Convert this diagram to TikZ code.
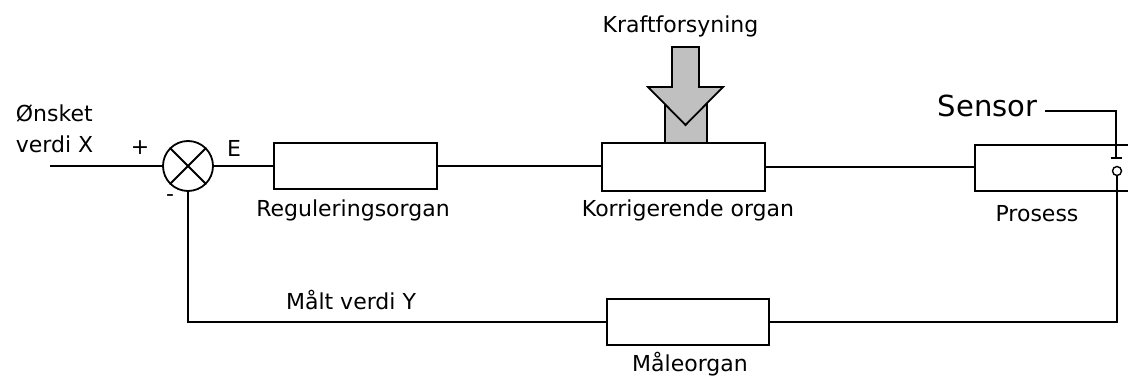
\documentclass[tikz,border=0pt]{standalone}
\usepackage{fontspec}
\setmainfont{DejaVu Sans}
\usetikzlibrary{arrows.meta,calc}
\definecolor{powergray}{RGB}{192,192,192}
\begin{document}
\begin{tikzpicture}[x=1pt,y=-1pt,
  line width=1.8pt,
  font=\fontsize{22}{26}\selectfont,
  blockbox/.style={draw,fill=white,rectangle,inner sep=0pt},
  lbl/.style={inner sep=0pt,anchor=base}]
\useasboundingbox (0,0) rectangle (1128,379);
\fill[white] (0,0) rectangle (1128,379);

% summing junction
\node[draw,circle,minimum size=50pt,inner sep=0pt] (sum) at (188,166) {};
\draw (sum.north west) -- (sum.south east);
\draw (sum.north east) -- (sum.south west);

% blocks
\node[blockbox,minimum width=163pt,minimum height=46pt] (reg) at (355.5,166) {};
\node[blockbox,minimum width=163pt,minimum height=48pt] (korr) at (683.5,167) {};
\node[blockbox,minimum width=175pt,minimum height=46pt] (pros) at (1062.5,168) {};
\node[blockbox,minimum width=162pt,minimum height=46pt] (maal) at (688,322) {};

% power supply arrow
\fill[powergray,draw=black] (665,103) rectangle (707,143);
\filldraw[fill=powergray,draw=black,line join=miter]
  (672,47) -- (699,47) -- (699,87) -- (723,87) -- (685.5,125) -- (648,87) -- (672,87) -- cycle;

% sensor
\node[lbl,anchor=base west,font=\fontsize{29}{32}\selectfont] (sensor) at (937,117) {Sensor};
\coordinate (sstart) at (1045,111);
\coordinate (stip) at (1116,159);
\node[draw,circle,fill=white,minimum size=9pt,inner sep=0pt,line width=1.4pt] (probe) at (1117,171) {};
\draw[-{Bar[width=11pt,line width=1.8pt]}] (sstart) -| (stip);

% connectors
\coordinate (xin) at (50,166);
\draw (xin) -- (sum.west);
\draw (sum.east) -- (reg.west);
\draw (reg.east) -- (reg.east -| korr.west);
\draw (korr.east) -- (korr.east -| pros.west);
\draw (probe.south) |- (maal.east);
\draw (maal.west) -| (sum.south);

% labels
\node[lbl] (kraft) at (680.5,33) {Kraftforsyning};
\node[lbl,anchor=base west] (onsk1) at (15,122) {Ønsket};
\node[lbl,anchor=base west] (onsk2) at (15,153) {verdi X};
\node[inner sep=0pt] (plus) at (140,148) {+};
\node[lbl] (elbl) at (234,157) {E};
\node[inner sep=0pt] (minus) at (170,198) {-};
\node[lbl] (reglbl) at (353,217) {Reguleringsorgan};
\node[lbl] (korrlbl) at (688,217) {Korrigerende organ};
\node[lbl] (proslbl) at (1037,222) {Prosess};
\node[lbl] (ylbl) at (351,310) {Målt verdi Y};
\node[lbl] (maallbl) at (690,372) {Måleorgan};
\end{tikzpicture}
\end{document}
